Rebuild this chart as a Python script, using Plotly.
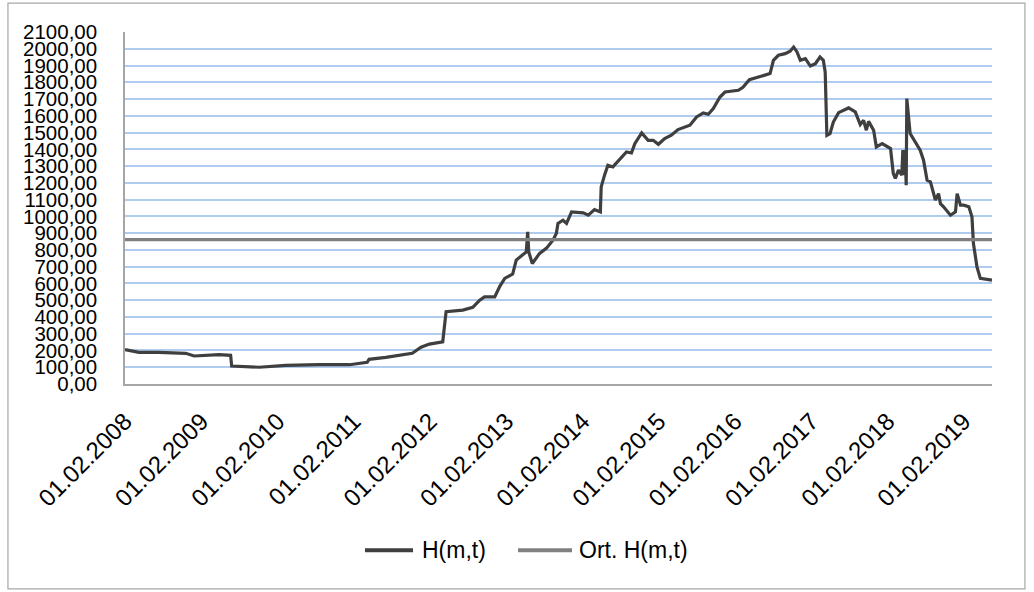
import plotly.graph_objects as go

# H(m,t) series: observation dates and values
dates = [
    "2008-02-01", "2008-04-07", "2008-07-12", "2008-11-18", "2008-12-28",
    "2009-04-26", "2009-06-21", "2009-06-26", "2009-11-05", "2010-03-11",
    "2010-08-19", "2011-01-11", "2011-04-06", "2011-04-15", "2011-07-04",
    "2011-11-08", "2011-12-20", "2012-01-29", "2012-04-02", "2012-04-18",
    "2012-07-07", "2012-08-24", "2012-09-26", "2012-10-19", "2012-12-07",
    "2013-01-01", "2013-01-24", "2013-03-03", "2013-03-20", "2013-05-07",
    "2013-05-14", "2013-05-19", "2013-06-05", "2013-07-10", "2013-08-11",
    "2013-09-12", "2013-09-28", "2013-10-06", "2013-10-30", "2013-11-16",
    "2013-12-10", "2014-02-04", "2014-02-28", "2014-03-30", "2014-04-27",
    "2014-05-01", "2014-05-17", "2014-06-02", "2014-06-26", "2014-08-06",
    "2014-08-30", "2014-09-23", "2014-10-09", "2014-11-11", "2014-12-12",
    "2015-01-05", "2015-01-30", "2015-03-01", "2015-04-02", "2015-05-04",
    "2015-06-30", "2015-08-01", "2015-09-02", "2015-09-26", "2015-10-20",
    "2015-11-21", "2015-12-15", "2016-02-17", "2016-03-10", "2016-04-10",
    "2016-06-01", "2016-07-18", "2016-08-03", "2016-08-27", "2016-09-28",
    "2016-10-22", "2016-11-08", "2016-11-24", "2016-12-10", "2017-01-03",
    "2017-01-27", "2017-02-20", "2017-03-14", "2017-03-30", "2017-04-08",
    "2017-04-16", "2017-05-01", "2017-05-17", "2017-06-11", "2017-07-29",
    "2017-08-30", "2017-09-23", "2017-10-09", "2017-10-22", "2017-11-02",
    "2017-11-26", "2017-12-09", "2018-01-06", "2018-02-15", "2018-02-28",
    "2018-03-10", "2018-03-25", "2018-04-10", "2018-04-15", "2018-04-21",
    "2018-04-26", "2018-05-01", "2018-05-04", "2018-05-20", "2018-06-13",
    "2018-07-07", "2018-07-23", "2018-08-09", "2018-08-25", "2018-09-18",
    "2018-10-03", "2018-10-12", "2018-10-27", "2018-11-29", "2018-12-23",
    "2018-12-31", "2019-01-16", "2019-02-01", "2019-02-25", "2019-03-12",
    "2019-03-19", "2019-03-27", "2019-04-05", "2019-04-21", "2019-06-01",
    "2019-06-16",
]
h_values = [
    205, 189, 189, 183, 167,
    175, 171, 107, 100, 111,
    115, 115, 129, 147, 159,
    183, 219, 238, 252, 431,
    441, 457, 500, 520, 520,
    584, 630, 656, 739, 788,
    908, 788, 719, 779, 809,
    858, 898, 958, 977, 958,
    1027, 1021, 1007, 1041, 1027,
    1176, 1246, 1305, 1295, 1355,
    1384, 1378, 1434, 1498, 1454,
    1454, 1430, 1464, 1484, 1518,
    1544, 1593, 1617, 1609, 1643,
    1712, 1742, 1752, 1770, 1815,
    1832, 1852, 1931, 1961, 1971,
    1985, 2010, 1981, 1931, 1941,
    1897, 1911, 1951, 1931, 1861,
    1484, 1494, 1563, 1619, 1647,
    1623, 1548, 1573, 1514, 1567,
    1514, 1414, 1434, 1405, 1256,
    1226, 1276, 1246, 1395, 1246,
    1395, 1186, 1703, 1494, 1444,
    1395, 1335, 1216, 1206, 1097,
    1136, 1076, 1057, 1007, 1027,
    1136, 1067, 1067, 1057, 997,
    839, 779, 699, 630, 624,
    620,
]

# Average of H(m,t)
avg_h = 861

# X axis ticks (1 February of each year)
tick_dates = [f"{y}-02-01" for y in range(2008, 2020)]
tick_labels = [f"01.02.{y}" for y in range(2008, 2020)]

series_names = ["H(m,t)", "Ort. H(m,t)"]
series_colors = ["#3F3F3F", "#808080"]

font_family = "Liberation Sans"

fig = go.Figure()
fig.add_trace(go.Scatter(
    x=dates, y=h_values, mode="lines", name=series_names[0],
    line=dict(color=series_colors[0], width=3.2),
))
fig.add_trace(go.Scatter(
    x=[dates[0], dates[-1]], y=[avg_h, avg_h], mode="lines", name=series_names[1],
    line=dict(color=series_colors[1], width=3.2),
))

# Legend below the plot: long line samples followed by the series names
legend_y = -0.472
legend_items = [(0.2768, 0.3322, 0.3403), (0.4533, 0.5156, 0.5213)]
shapes = [dict(
    type="rect", xref="paper", yref="paper",
    x0=-0.135, x1=1.038, y0=-0.582, y1=1.082,
    line=dict(color="#A6A6A6", width=1.2), fillcolor="rgba(0,0,0,0)",
    layer="below",
)]
annotations = []
for (x0, x1, xt), name, color in zip(legend_items, series_names, series_colors):
    shapes.append(dict(
        type="line", xref="paper", yref="paper",
        x0=x0, x1=x1, y0=legend_y, y1=legend_y,
        line=dict(color=color, width=4),
    ))
    annotations.append(dict(
        xref="paper", yref="paper", x=xt, y=legend_y,
        xanchor="left", yanchor="middle", showarrow=False,
        text=name, font=dict(size=23, family=font_family, color="#000000"),
    ))

fig.update_layout(
    width=1034, height=592,
    margin=dict(l=125, r=42, t=32, b=208),
    paper_bgcolor="white", plot_bgcolor="white",
    separators=",.",
    font=dict(family=font_family, size=20, color="#000000"),
    showlegend=False,
    shapes=shapes,
    annotations=annotations,
)
fig.update_xaxes(
    type="date", range=[dates[0], dates[-1]],
    tickvals=tick_dates, ticktext=tick_labels, tickangle=-45,
    showgrid=False, zeroline=False,
    showline=True, linecolor="#A6A6A6", linewidth=1.5,
    ticks="", ticklabelstandoff=12,
    tickfont=dict(size=24),
)
fig.update_yaxes(
    range=[0, 2100], dtick=100, tick0=0, tickformat=".2f",
    showgrid=True, gridcolor="#AFCBEE", gridwidth=1.6,
    zeroline=False, showline=True, linecolor="#A6A6A6", linewidth=1.5,
    ticks="", ticklabelstandoff=22,
    tickfont=dict(size=20.5),
)

fig.write_html("out.html")
